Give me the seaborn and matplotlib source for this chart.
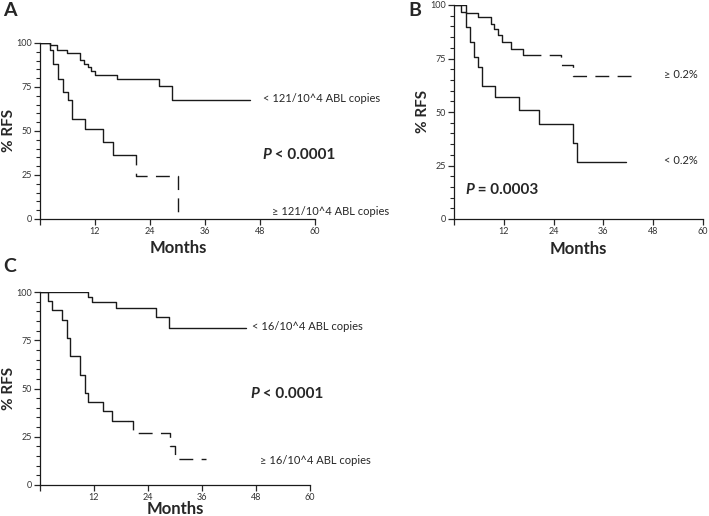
import matplotlib
import matplotlib.pyplot as plt
import pandas as pd
import seaborn as sns

matplotlib.use("Agg")

# Kaplan-Meier step points (months, % RFS after each drop)
a_low_t = [0, 2.2, 2.9, 3.9, 5.1, 6.0, 6.9, 9.8, 13.8, 16.0, 20.9, 30.0]
a_low_s = [100, 96.2, 88.0, 79.7, 72.2, 67.4, 56.8, 51.1, 43.8, 36.2, 24.6, 0]
a_high_t = [0, 2.2, 3.6, 5.8, 8.7, 9.5, 10.5, 11.1, 11.9, 16.9, 26.0, 28.9, 45.8]
a_high_s = [100, 98.7, 96.2, 94.3, 90.2, 88.3, 86.1, 84.2, 82.0, 79.7, 75.5, 67.8, 67.8]

b_high_t = [0, 2.9, 5.8, 8.8, 9.7, 10.6, 11.6, 13.7, 16.7, 25.7, 28.7, 44.6]
b_high_s = [100, 96.1, 94.3, 91.2, 88.8, 86.2, 82.5, 79.5, 76.6, 72.0, 67.0, 67.0]
b_low_t = [0, 1.8, 2.9, 3.8, 4.8, 5.8, 6.8, 9.8, 15.7, 20.6, 28.6, 29.6, 41.5]
b_low_s = [100, 96.9, 89.6, 82.6, 75.6, 71.2, 62.2, 57.0, 50.8, 44.4, 35.6, 26.7, 26.7]

c_high_t = [0, 10.7, 11.6, 16.8, 25.8, 28.7, 45.8]
c_high_s = [100, 97.4, 95.0, 91.9, 86.8, 81.4, 81.4]
c_low_t = [0, 1.85, 2.7, 4.8, 5.9, 6.7, 8.9, 9.9, 10.7, 13.9, 16.1, 20.7, 28.9, 29.9, 36.8]
c_low_s = [100, 95.2, 90.5, 85.7, 76.2, 66.7, 57.1, 47.6, 42.9, 38.1, 33.3, 26.7, 20.0, 13.3, 13.3]

x_ticks = [0, 12, 24, 36, 48, 60]
x_tick_labels = ["", "12", "24", "36", "48", "60"]
y_ticks = [0, 25, 50, 75, 100]

LINE = "#1a1a1a"


def step_curve(ax, t, s, dash_from=None):
    df = pd.DataFrame({"t": t, "s": s})
    kw = dict(x="t", y="s", ax=ax, color=LINE, linewidth=1.0,
              drawstyle="steps-post", estimator=None, sort=False, legend=False)
    if dash_from is None:
        sns.lineplot(data=df, **kw)
        return
    # value of the curve at the split point
    val = df.loc[df["t"] <= dash_from, "s"].iloc[-1]
    solid = pd.concat([df[df["t"] <= dash_from],
                       pd.DataFrame({"t": [dash_from], "s": [val]})])
    dashed = pd.concat([pd.DataFrame({"t": [dash_from], "s": [val]}),
                        df[df["t"] > dash_from]])
    sns.lineplot(data=solid, **kw)
    sns.lineplot(data=dashed, dashes=False, **kw)
    ax.lines[-1].set_dashes((10, 6))


def style_axes(ax):
    ax.set_xlim(0, 60)
    ax.set_ylim(0, 100)
    ax.set_xticks(x_ticks)
    ax.set_xticklabels(x_tick_labels)
    ax.set_yticks(y_ticks)
    ax.set_yticks(range(0, 101, 5), minor=True)
    ax.tick_params(axis="both", which="major", direction="out", length=4,
                   width=0.9, labelsize=6.5, labelcolor="#333333", pad=2)
    ax.tick_params(axis="y", which="minor", direction="out", length=3, width=0.8)
    ax.tick_params(axis="x", which="minor", length=0)
    for side in ["top", "right"]:
        ax.spines[side].set_visible(False)
    for side in ["left", "bottom"]:
        ax.spines[side].set_linewidth(0.9)
        ax.spines[side].set_color(LINE)
    ax.set_xlabel("")
    ax.set_ylabel("")


def p_value(fig, x, y, rest):
    t = fig.text(x, y, "P", fontsize=11, fontweight="bold", style="italic",
                 va="center")
    plt.annotate(rest, xy=(1, 0), xycoords=t, fontsize=11, fontweight="bold",
                 va="bottom", annotation_clip=False)


sns.set_style("ticks")
plt.rcParams["font.family"] = ["Lato", "DejaVu Sans"]

W, H = 709, 516
fig = plt.figure(figsize=(W / 100, H / 100), dpi=100)


def px(x, y):
    return x / W, 1 - y / H


ax_a = fig.add_axes([40 / W, 1 - 219 / H, 275 / W, 176 / H])
ax_b = fig.add_axes([454 / W, 1 - 219 / H, 249 / W, 214 / H])
ax_c = fig.add_axes([40 / W, 1 - 485 / H, 270 / W, 193 / H])

step_curve(ax_a, a_high_t, a_high_s)
step_curve(ax_a, a_low_t, a_low_s, dash_from=20.0)
step_curve(ax_b, b_low_t, b_low_s)
step_curve(ax_b, b_high_t, b_high_s, dash_from=17.5)
step_curve(ax_c, c_high_t, c_high_s)
step_curve(ax_c, c_low_t, c_low_s, dash_from=19.5)

for ax in [ax_a, ax_b, ax_c]:
    style_axes(ax)

# panel letters
for letter, (x, y) in [("A", (3, 10)), ("B", (408, 10)), ("C", (3, 266))]:
    fig.text(*px(x, y), letter, fontsize=14, fontweight="bold", va="center")

# axis titles
for x, y in [(9, 131), (423, 112), (9, 389)]:
    fig.text(*px(x, y), "% RFS", fontsize=11, fontweight="bold",
             rotation=90, ha="center", va="center")
for x, y in [(178, 248), (578, 249), (175, 509)]:
    fig.text(*px(x, y), "Months", fontsize=12, fontweight="bold",
             ha="center", va="center")

# group labels
fig.text(*px(263, 99), "< 121/10^4 ABL copies", fontsize=8, va="center")
fig.text(*px(272, 211), "≥ 121/10^4 ABL copies", fontsize=8, va="center")
fig.text(*px(664, 74), "≥ 0.2%", fontsize=8, va="center")
fig.text(*px(664, 160), "< 0.2%", fontsize=8, va="center")
fig.text(*px(252, 327), "< 16/10^4 ABL copies", fontsize=8, va="center")
fig.text(*px(260, 461), "≥ 16/10^4 ABL copies", fontsize=8, va="center")

p_value(fig, *px(262, 155), " < 0.0001")
p_value(fig, *px(465, 190), " = 0.0003")
p_value(fig, *px(250, 394), " < 0.0001")

fig.savefig("out.png", dpi=100)
